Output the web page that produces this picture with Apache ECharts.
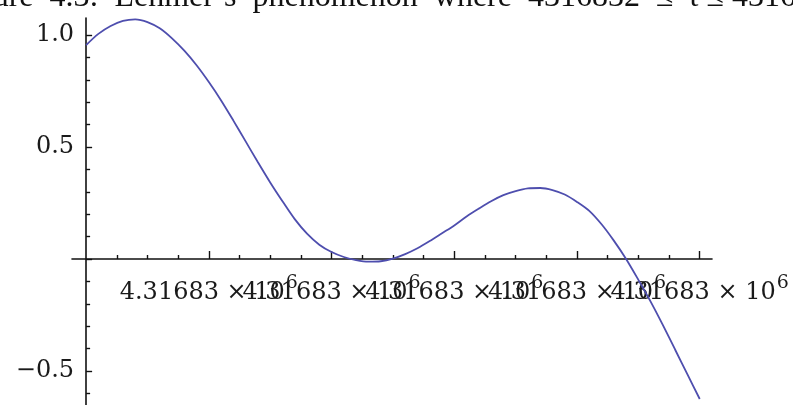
<!DOCTYPE html>
<html>
<head>
<meta charset="utf-8">
<script src="https://cdn.jsdelivr.net/npm/echarts@6/dist/echarts.min.js"></script>
<style>
  html, body { margin: 0; padding: 0; background: #fff; }
  #chart { width: 793px; height: 405px; }
</style>
</head>
<body>
<div id="chart"></div>
<script>
// Z(t) near t = 4316832: t is stored as an offset from T_BASE
const T_BASE = 4316832;
const tOffset = [
  0.00, 0.02, 0.04, 0.06, 0.08, 0.10, 0.12, 0.14, 0.16, 0.18,
  0.20, 0.22, 0.24, 0.26, 0.28, 0.30, 0.32, 0.34, 0.36, 0.38,
  0.40, 0.42, 0.44, 0.46, 0.48, 0.50, 0.52, 0.54, 0.56, 0.58,
  0.60, 0.62, 0.64, 0.66, 0.68, 0.70, 0.72, 0.74, 0.76, 0.78,
  0.80, 0.82, 0.84, 0.86, 0.88, 0.90, 0.92, 0.94, 0.96, 0.98, 1.00
];
const zValues = [
  0.955, 1.005, 1.040, 1.063, 1.070, 1.058, 1.030, 0.985, 0.930, 0.865,
  0.790, 0.708, 0.618, 0.525, 0.432, 0.342, 0.258, 0.178, 0.113, 0.064,
  0.031, 0.009, -0.005, -0.012, -0.010, 0.002, 0.022, 0.048, 0.080, 0.115,
  0.150, 0.190, 0.225, 0.258, 0.285, 0.303, 0.315, 0.317, 0.308, 0.288,
  0.255, 0.215, 0.155, 0.082, 0.000, -0.093, -0.190, -0.295, -0.405, -0.515, -0.625
];

// tick positions
const xMajorTicks = [0.2, 0.4, 0.6, 0.8, 1.0];
const xMinorTicks = [0.05, 0.10, 0.15, 0.25, 0.30, 0.35, 0.45, 0.50, 0.55,
                     0.65, 0.70, 0.75, 0.85, 0.90, 0.95];
const yMajorTicks = [-0.5, 0, 0.5, 1.0];
const yLabelTicks = [-0.5, 0.5, 1.0];
const yMinorTicks = [-0.6, -0.4, -0.3, -0.2, -0.1, 0.1, 0.2, 0.3, 0.4,
                     0.6, 0.7, 0.8, 0.9];

// caption line (justified, so the word gaps are wide)
const titleText = "Figure\u20024.3:\u2002Lehmer\u2019s\u2002phenomenon\u2002where\u2002" +
                  "4316832\u2002\u2264\u2002t \u2264 4316833.";

const X_MIN = -0.023, X_MAX = 1.02;
const Y_MIN = -0.7, Y_MAX = 1.076;

// plot box
const GRID = { left: 72, top: 18, width: 640, height: 397.8 };
// the axes cross at t offset 0 and Z = 0, inside the box
const yAxisShift = -(0 - X_MIN) / (X_MAX - X_MIN) * GRID.width;
const xAxisShift = -(0 - Y_MIN) / (Y_MAX - Y_MIN) * GRID.height;

const axisColor = '#111';
const textColor = '#1a1a1a';
const labelFont = 'DejaVu Serif';

const points = tOffset.map((t, i) => [t, zValues[i]]);

// the long x labels run into each other, so they are split over two label axes
const xLabelsEven = xMajorTicks.filter((v, i) => i % 2 === 0);
const xLabelsOdd = xMajorTicks.filter((v, i) => i % 2 === 1);

const chart = echarts.init(document.getElementById('chart'), null, { renderer: 'canvas' });

const xBase = {
  type: 'value', min: X_MIN, max: X_MAX, position: 'bottom', offset: xAxisShift,
  splitLine: { show: false }
};
const yBase = {
  type: 'value', min: Y_MIN, max: Y_MAX, position: 'left', offset: yAxisShift,
  splitLine: { show: false }
};

function xLabelStyle(values) {
  return {
    show: true,
    customValues: values,
    showMinLabel: true,
    showMaxLabel: true,
    hideOverlap: false,
    margin: 20,
    formatter: v => '{m|' + ((T_BASE + v) / 1e6).toPrecision(6) + ' \u00d7 10}{s|6}',
    rich: {
      m: { fontFamily: labelFont, fontSize: 24, lineHeight: 28, color: textColor },
      s: { fontFamily: labelFont, fontSize: 19, lineHeight: 18, color: textColor,
           padding: [0, 0, 20, 1] }
    }
  };
}

chart.setOption({
  animation: false,
  backgroundColor: '#fff',
  graphic: [{
    type: 'text',
    left: -50,
    top: -18,
    style: {
      text: titleText,
      font: '32px "Liberation Serif"',
      fill: '#111'
    }
  }],
  grid: Object.assign({ containLabel: false, outerBoundsMode: 'none' }, GRID),
  xAxis: [Object.assign({}, xBase, {
    axisLine: { show: true, onZero: false, lineStyle: { color: axisColor, width: 1.6 } },
    axisTick: { show: true, inside: true, length: 8, customValues: xMajorTicks,
                lineStyle: { color: axisColor, width: 1.4 } },
    axisLabel: xLabelStyle(xLabelsEven)
  }), Object.assign({}, xBase, {
    axisLine: { show: false, onZero: false },
    axisTick: { show: true, inside: true, length: 4, customValues: xMinorTicks,
                lineStyle: { color: axisColor, width: 1.4 } },
    axisLabel: { show: false }
  }), Object.assign({}, xBase, {
    axisLine: { show: false, onZero: false },
    axisTick: { show: false },
    axisLabel: xLabelStyle(xLabelsOdd)
  })],
  yAxis: [Object.assign({}, yBase, {
    axisLine: { show: true, onZero: false, lineStyle: { color: axisColor, width: 1.6 } },
    axisTick: { show: true, inside: true, length: 6, customValues: yMajorTicks,
                lineStyle: { color: axisColor, width: 1.4 } },
    axisLabel: {
      show: true,
      customValues: yLabelTicks,
      showMinLabel: true,
      showMaxLabel: true,
      margin: 12,
      fontFamily: labelFont,
      fontSize: 24,
      color: textColor,
      formatter: v => (v < 0 ? '\u2212' : '') + Math.abs(v).toFixed(1)
    }
  }), Object.assign({}, yBase, {
    axisLine: { show: false, onZero: false },
    axisTick: { show: true, inside: true, length: 4, customValues: yMinorTicks,
                lineStyle: { color: axisColor, width: 1.4 } },
    axisLabel: { show: false }
  })],
  series: [{
    type: 'line',
    xAxisIndex: 0,
    yAxisIndex: 0,
    data: points,
    showSymbol: false,
    smooth: 0.3,
    clip: false,
    lineStyle: { color: '#4e4eae', width: 1.8 }
  }]
});
</script>
</body>
</html>
